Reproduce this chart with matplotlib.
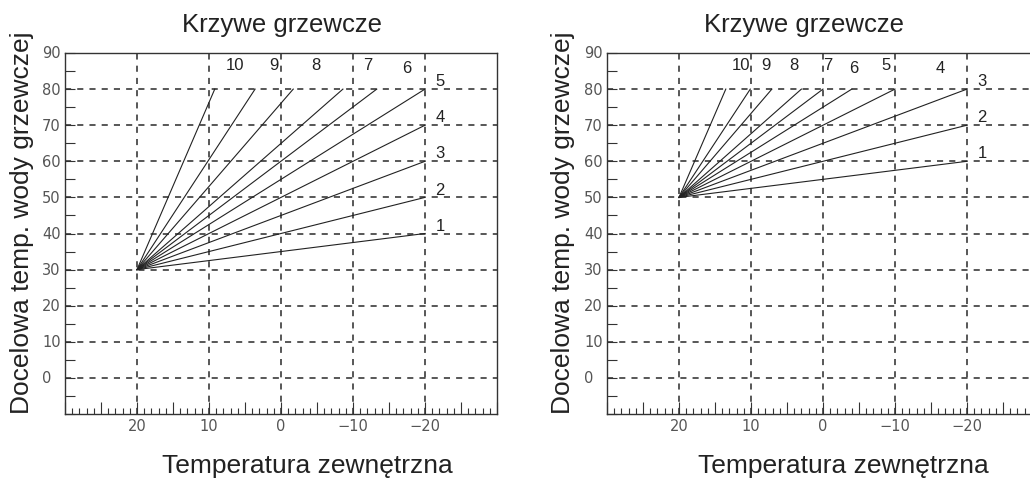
import numpy as np
import matplotlib
matplotlib.use('Agg')
import matplotlib.pyplot as plt
from matplotlib.ticker import MultipleLocator

plt.rc('font', family=['Liberation Sans', 'DejaVu Sans'])

# heating curves: all start at indoor point, end points
curve_ids = ['1', '2', '3', '4', '5', '6', '7', '8', '9', '10']

# left panel (start 20 -> 30)
left_start = (20, 30)
left_end_x = [-20, -20, -20, -20, -20, -13.3, -8.6, -1.7, 3.6, 9.2]
left_end_y = [40, 50, 60, 70, 80, 80, 80, 80, 80, 80]
left_lab_x = [-22.1, -22.1, -22.1, -22.1, -22.1, -17.5, -12.1, -4.9, 1.0, 6.4]
left_lab_y = [42.2, 52.2, 62.5, 72.5, 82.5, 86.1, 86.9, 86.9, 86.9, 86.9]

# right panel (start 20 -> 50)
right_start = (20, 50)
right_end_x = [-20, -20, -20, -10, -4.0, 0.0, 3.0, 7.1, 10.1, 13.5]
right_end_y = [60, 70, 80, 80, 80, 80, 80, 80, 80, 80]
right_lab_x = [-22.1, -22.1, -22.1, -16.25, -8.75, -4.3, -0.6, 4.0, 7.9, 11.4]
right_lab_y = [62.5, 72.5, 82.5, 86.1, 86.9, 86.1, 86.9, 86.9, 86.9, 86.9]

x_ticks = [20, 10, 0, -10, -20]
y_ticks = [0, 10, 20, 30, 40, 50, 60, 70, 80, 90]

title = 'Krzywe grzewcze'
xlabel = 'Temperatura zewnętrzna'
ylabel = 'Docelowa temp. wody grzewczej'

fig = plt.figure(figsize=(10.30, 4.81), dpi=100)
ax1 = fig.add_axes([65/1030, 66/481, 432/1030, 361/481])
ax2 = fig.add_axes([607/1030, 66/481, 432/1030, 361/481])


def draw(ax, start, ex, ey, lx, ly, title_x, ylab_x, xlab_x):
    ax.set_xlim(30, -30)
    ax.set_ylim(-10, 90)
    for xe, ye in zip(ex, ey):
        ax.plot([start[0], xe], [start[1], ye], color='#222222', lw=0.8)
    for t, xl, yl in zip(curve_ids, lx, ly):
        ax.text(xl, yl, t, ha='center', va='center', fontsize=12, color='#222222')

    # grid
    for xv in x_ticks:
        ax.plot([xv, xv], [-10, 90], color='#2a2a2a', lw=1.1, ls=(0, (4, 4)), zorder=0)
    for yv in y_ticks[:-1]:
        ax.plot([30, -30], [yv, yv], color='#2a2a2a', lw=1.1, ls=(0, (4, 4)), zorder=0)

    ax.xaxis.set_major_locator(MultipleLocator(5))
    ax.xaxis.set_minor_locator(MultipleLocator(1))
    ax.yaxis.set_major_locator(MultipleLocator(5))
    ax.tick_params(axis='x', which='major', direction='in', length=9, width=0.8,
                   color='#333333', labelbottom=False)
    ax.tick_params(axis='x', which='minor', direction='in', length=4, width=0.8,
                   color='#333333')
    ax.tick_params(axis='y', which='major', direction='in', length=7, width=0.8,
                   color='#333333', labelleft=False)
    for sp in ax.spines.values():
        sp.set_color('#333333')
        sp.set_linewidth(1.0)

    # tick labels as text (left-aligned y labels as in the reference)
    for xv in x_ticks:
        ax.text(xv, -13.3, '{:d}'.format(xv).replace('-', '\u2212'), ha='center', va='center',
                fontsize=10.5, color='#555555', family='DejaVu Sans')
    for yv in y_ticks:
        ax.text(-23/432, yv, str(yv), transform=ax.get_yaxis_transform(), ha='left',
                va='center', fontsize=10.5, color='#555555', family='DejaVu Sans')

    ax.text(title_x, 1.0 + 29/361, title, transform=ax.transAxes, ha='center',
            va='center', fontsize=18.5, color='#222222')
    ax.text(ylab_x, 0.5 + 12/361, ylabel, transform=ax.transAxes, ha='center',
            va='center', rotation=90, fontsize=19, color='#222222')
    ax.text(xlab_x, -51/361, xlabel, transform=ax.transAxes, ha='center',
            va='center', fontsize=19, color='#222222')


draw(ax1, left_start, left_end_x, left_end_y, left_lab_x, left_lab_y,
     (282-65)/432, (22-65)/432, (307-65)/432)
draw(ax2, right_start, right_end_x, right_end_y, right_lab_x, right_lab_y,
     (804-607)/432, (563-607)/432, (843-607)/432)

plt.savefig('out.png', dpi=100)
